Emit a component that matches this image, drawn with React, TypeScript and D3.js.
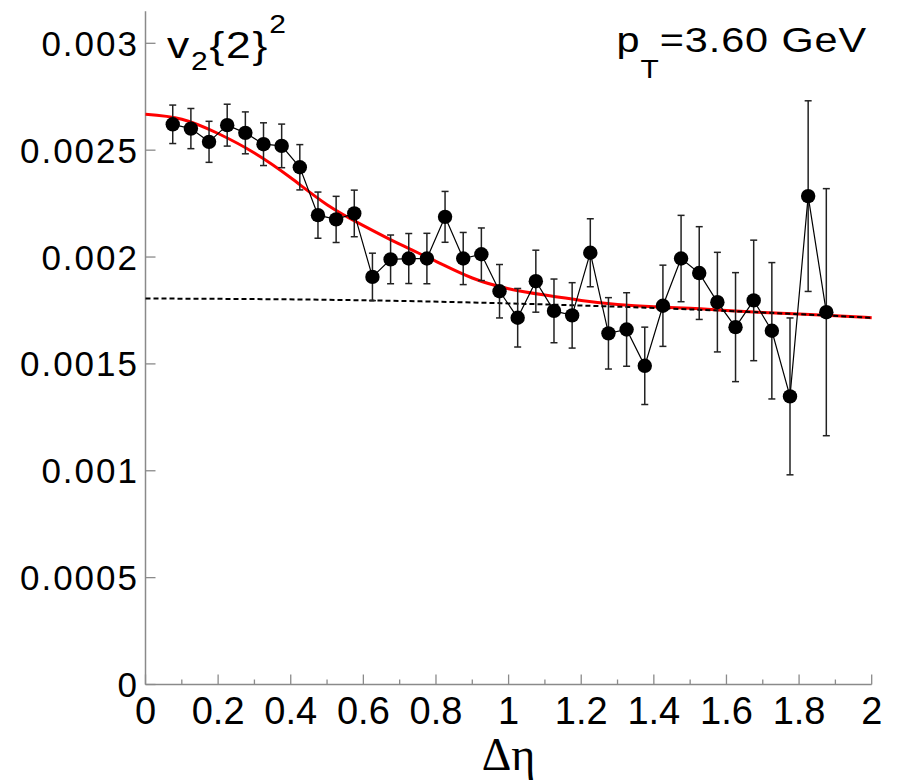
import React, { useEffect, useRef } from "react";
import * as d3 from "d3";

// measured points (delta eta bin centres)
const etaBins = [
  0.075, 0.125, 0.175, 0.225, 0.275, 0.325, 0.375, 0.425, 0.475, 0.525,
  0.575, 0.625, 0.675, 0.725, 0.775, 0.825, 0.875, 0.925, 0.975, 1.025,
  1.075, 1.125, 1.175, 1.225, 1.275, 1.325, 1.375, 1.425, 1.475, 1.525,
  1.575, 1.625, 1.675, 1.725, 1.775, 1.825, 1.875,
];
const v2Values = [
  0.002621, 0.002601, 0.002539, 0.002617, 0.002581, 0.002528, 0.00252, 0.00242, 0.002196, 0.002176,
  0.002204, 0.001907, 0.001989, 0.001993, 0.001993, 0.002188, 0.001993, 0.002013, 0.00184, 0.001716,
  0.001887, 0.001748, 0.001727, 0.00202, 0.001643, 0.001661, 0.001491, 0.001772, 0.001993, 0.001925,
  0.001789, 0.001672, 0.001797, 0.001655, 0.001348, 0.002285, 0.001742,
];
const v2Errors = [
  0.00009, 0.000094, 0.000096, 0.000098, 0.000098, 0.0001, 0.000102, 0.000106, 0.000108, 0.000108,
  0.000109, 0.000111, 0.000114, 0.000117, 0.000118, 0.000119, 0.000122, 0.000123, 0.000125, 0.000137,
  0.000145, 0.000149, 0.000153, 0.000159, 0.000167, 0.000172, 0.000181, 0.00019, 0.000202, 0.000217,
  0.000233, 0.000255, 0.000282, 0.000319, 0.000367, 0.000446, 0.000578,
];

// fit curve (red)
const fitEta = [0, 0.1, 0.2, 0.3, 0.4, 0.5, 0.6, 0.7, 0.8, 0.9, 1.0, 1.1, 1.2, 1.3, 1.4, 1.5, 1.6, 1.7, 1.8, 1.9, 2.0];
const fitValues = [
  0.002668, 0.002645, 0.002578, 0.002487, 0.002371, 0.002245, 0.002147, 0.00206, 0.00198, 0.001902,
  0.001852, 0.001822, 0.001797, 0.001778, 0.001767, 0.00176, 0.00175, 0.001741, 0.001733, 0.001725, 0.001716,
];

// non-flow baseline (dashed)
const baseEta = [0, 0.5, 1.0, 1.5, 2.0];
const baseValues = [0.001806, 0.0018, 0.001783, 0.001755, 0.001716];

const xTicks = [0, 0.2, 0.4, 0.6, 0.8, 1, 1.2, 1.4, 1.6, 1.8, 2];
const xMinorTicks = [0.1, 0.3, 0.5, 0.7, 0.9, 1.1, 1.3, 1.5, 1.7, 1.9];
const yTicks = [0, 0.0005, 0.001, 0.0015, 0.002, 0.0025, 0.003];

const W = 901, H = 780;

export default function App() {
  const ref = useRef<SVGSVGElement>(null);

  useEffect(() => {
    const svg = d3.select(ref.current);
    svg.selectAll("*").remove();

    const x = d3.scaleLinear().domain([0, 2]).range([145.5, 871.7]);
    const y = d3.scaleLinear().domain([0, 0.003]).range([684.5, 43.3]);
    const axisCol = "#8a8a8a";
    const sans = "'Liberation Sans', Arial, Helvetica, sans-serif";

    // axes
    const ax = svg.append("g");
    ax.append("line")
      .attr("x1", x(0)).attr("x2", x(0))
      .attr("y1", y(0)).attr("y2", y(0.00315))
      .attr("stroke", axisCol).attr("stroke-width", 1.5);
    ax.append("line")
      .attr("x1", x(0)).attr("x2", x(2))
      .attr("y1", y(0)).attr("y2", y(0))
      .attr("stroke", axisCol).attr("stroke-width", 1.5);

    ax.selectAll(".xt").data(xTicks).join("line")
      .attr("x1", d => x(d)).attr("x2", d => x(d))
      .attr("y1", y(0)).attr("y2", y(0) - 10)
      .attr("stroke", axisCol).attr("stroke-width", 1.3);
    ax.selectAll(".xm").data(xMinorTicks).join("line")
      .attr("x1", d => x(d)).attr("x2", d => x(d))
      .attr("y1", y(0)).attr("y2", y(0) - 5)
      .attr("stroke", axisCol).attr("stroke-width", 1.3);
    ax.selectAll(".yt").data(yTicks).join("line")
      .attr("x1", x(0)).attr("x2", x(0) + 10)
      .attr("y1", d => y(d)).attr("y2", d => y(d))
      .attr("stroke", axisCol).attr("stroke-width", 1.3);

    ax.selectAll(".xl").data(xTicks).join("text")
      .attr("x", d => x(d)).attr("y", y(0) + 39)
      .attr("text-anchor", "middle")
      .attr("font-family", sans).attr("font-size", 38)
      .text(d => d3.format("")(d));
    ax.selectAll(".yl").data(yTicks).join("text")
      .attr("x", 139).attr("y", d => y(d) + 12.5)
      .attr("text-anchor", "end")
      .attr("font-family", sans).attr("font-size", 35)
      .attr("letter-spacing", 2)
      .text(d => String(d));

    // axis title
    svg.append("text")
      .attr("x", x(1)).attr("y", 770)
      .attr("text-anchor", "middle")
      .attr("font-family", "'Liberation Serif', 'Times New Roman', serif")
      .attr("font-size", 46)
      .text("Δη");

    // fit curves
    const line = d3.line<[number, number]>()
      .x(d => x(d[0])).y(d => y(d[1]))
      .curve(d3.curveNatural);
    svg.append("path")
      .attr("d", line(fitEta.map((e, i) => [e, fitValues[i]] as [number, number])))
      .attr("fill", "none").attr("stroke", "#ff0000").attr("stroke-width", 3);
    svg.append("path")
      .attr("d", line(baseEta.map((e, i) => [e, baseValues[i]] as [number, number])))
      .attr("fill", "none").attr("stroke", "#000").attr("stroke-width", 2)
      .attr("stroke-dasharray", "5,3");

    // error bars
    const eb = svg.append("g").attr("stroke", "#222").attr("stroke-width", 1.5);
    etaBins.forEach((e, i) => {
      const cx = x(e), lo = y(v2Values[i] - v2Errors[i]), hi = y(v2Values[i] + v2Errors[i]);
      eb.append("line").attr("x1", cx).attr("x2", cx).attr("y1", lo).attr("y2", hi);
      eb.append("line").attr("x1", cx - 3.5).attr("x2", cx + 3.5).attr("y1", lo).attr("y2", lo);
      eb.append("line").attr("x1", cx - 3.5).attr("x2", cx + 3.5).attr("y1", hi).attr("y2", hi);
    });

    // connecting line + markers
    const pts = etaBins.map((e, i) => [e, v2Values[i]] as [number, number]);
    svg.append("path")
      .attr("d", d3.line<[number, number]>().x(d => x(d[0])).y(d => y(d[1]))(pts))
      .attr("fill", "none").attr("stroke", "#000").attr("stroke-width", 1.2);
    svg.append("g").selectAll("circle").data(pts).join("circle")
      .attr("cx", d => x(d[0])).attr("cy", d => y(d[1])).attr("r", 7.2)
      .attr("fill", "#000");

    // labels (slightly stretched horizontally like the original)
    const t1 = svg.append("text")
      .attr("transform", "translate(167,58) scale(1.2,1)")
      .attr("font-family", sans).attr("font-size", 37).attr("letter-spacing", 1.5);
    t1.append("tspan").text("v");
    t1.append("tspan").attr("font-size", 25).attr("dy", 12).text("2");
    t1.append("tspan").attr("dy", -12).text("{2}");
    t1.append("tspan").attr("font-size", 25).attr("dy", -25).text("2");

    const t2 = svg.append("text")
      .attr("transform", "translate(867,52) scale(1.15,1)")
      .attr("text-anchor", "end")
      .attr("font-family", sans).attr("font-size", 36).attr("letter-spacing", 0.8);
    t2.append("tspan").text("p");
    t2.append("tspan").attr("font-size", 26).attr("dy", 26).text("T");
    t2.append("tspan").attr("dy", -26).text("=3.60 GeV");
  }, []);

  return (
    <svg
      ref={ref}
      width={W}
      height={H}
      style={{ position: "absolute", left: 0, top: 0, background: "#fff" }}
    />
  );
}
